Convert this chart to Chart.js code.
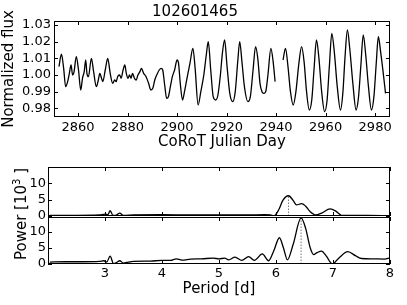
<!DOCTYPE html>
<html>
<head>
<meta charset="utf-8">
<script src="https://cdn.jsdelivr.net/npm/chart.js@4.4.1/dist/chart.umd.min.js"></script>
<style>
  html, body { margin: 0; padding: 0; background: #fff; }
  #wrap { position: relative; width: 407px; height: 305px; overflow: hidden; }
  #wrap canvas { position: absolute; left: 0; }
  #power-label {
    position: absolute; left: 21px; top: 214px;
    transform: translate(-50%, -50%) rotate(-90deg);
    font: 15px 'DejaVu Sans'; color: #000; white-space: nowrap; line-height: 18px;
  }
  #power-label sup { font-size: 10px; line-height: 0; }
</style>
</head>
<body>
<div id="wrap">
  <canvas id="chart-lc" width="407" height="160" style="top:0"></canvas>
  <canvas id="chart-pa" width="407" height="80" style="top:150px"></canvas>
  <canvas id="chart-pb" width="407" height="105" style="top:200px"></canvas>
  <div id="power-label">Power [10<sup>3</sup> ]</div>
</div>
<script>
// ─── DATA ────────────────────────────────────────────────────
const starId = '102601465';

// light curve (null = gap in the data)
const lcDays = [
  2852.3, 2853.3, 2854.2, 2855.0, 2855.8, 2856.5, 2857.2, 2857.8, 2858.4, 2859.3,
  2860.2, 2861.1, 2861.8, 2862.5, 2863.1, 2863.6, 2864.2, 2865.4, 2866.3, 2867.4,
  2868.2, 2868.8, 2869.5, 2870.0, 2871.0, 2872.0, 2873.0, 2874.0, 2874.8, 2875.4,
  2876.0, 2876.8, 2877.4, 2878.2, 2878.9, 2879.5, 2880.2, 2880.8, 2881.4, 2882.0,
  2882.8, 2883.5, 2884.2, 2885.0, 2885.6, 2886.5, 2887.5, 2888.5, 2889.4, 2890.2,
  2891.0, 2891.8, 2892.8, 2893.6, 2894.2, 2895.0, 2895.8, 2896.5, 2897.3, 2898.1,
  2899.0, 2900.0, 2900.6, 2901.3, 2902.2, 2903.0, 2904.0, 2905.2, 2906.4, 2907.3,
  2908.5, 2909.6, 2910.8, 2911.8, 2912.6, 2913.6, 2914.6, 2915.6, 2916.5, 2917.5,
  2918.3, 2919.2, 2920.2, 2921.3, 2922.5, 2923.5, 2924.5, 2925.3, 2926.2, 2927.2,
  2928.6, 2929.6, 2930.7, 2931.7, 2932.6, 2933.5, 2934.3, 2935.0, 2935.8, 2936.7,
  2937.9, 2938.8, 2939.6, 2941.0,
  2942.8, 2943.8, 2944.8, 2945.8, 2946.9, 2948.0, 2949.2, 2950.3, 2951.3, 2952.3,
  2953.4, 2954.4, 2955.3, 2956.3, 2957.3, 2958.4, 2959.6, 2960.6, 2961.5, 2962.5,
  2963.5, 2964.7, 2966.0, 2967.0, 2967.8, 2968.8, 2969.8, 2971.0, 2972.3, 2973.3,
  2974.2, 2975.2, 2976.2, 2977.3, 2978.5, 2979.5, 2980.4, 2981.3, 2982.2, 2983.2,
  2984.2
];
const lcFlux = [
  1.005, 1.0125, 1.004, 0.993, 0.996, 1.001, 1.006, 1.000, 1.002, 1.011,
  1.003, 0.991, 0.998, 1.002, 1.009, 1.001, 0.999, 1.010, 1.002, 0.993,
  0.997, 1.001, 0.998, 0.996, 1.003, 1.010, 1.001, 0.995, 0.997, 0.996,
  0.999, 1.000, 0.998, 1.003, 1.006, 1.001, 0.998, 1.000, 0.998, 1.001,
  0.998, 0.997, 1.000, 1.002, 1.004, 1.001, 0.999, 0.995, 0.991, 0.992,
  0.997, 1.000, 1.003, 1.004, 1.003, 0.994, 0.986, 0.987, 0.993, 0.999,
  1.003, 1.009, 1.007, 0.995, 0.985, 0.990, 0.998, 1.007, 1.016, 1.004,
  0.982, 0.990, 1.000, 1.012, 1.020, 1.003, 0.987, 0.985, 0.988, 1.000,
  1.013, 1.021, 1.005, 0.989, 0.984, 0.990, 1.008, 1.020, 1.008, 0.993,
  0.984, 0.987, 1.003, 1.017, 1.010, 0.995, 0.990, 0.989, 0.990, 1.000,
  1.016, 1.008, 0.996, null,
  1.009, 1.016, 1.005, 0.990, 0.982, 0.990, 1.007, 1.017, 1.008, 0.990,
  0.979, 0.985, 1.003, 1.021, 1.010, 0.990, 0.978, 0.985, 1.005, 1.025,
  1.014, 0.993, 0.979, 0.990, 1.010, 1.027, 1.015, 0.995, 0.979, 0.987,
  1.005, 1.024, 1.012, 0.993, 0.979, 0.987, 1.006, 1.023, 1.014, 1.002,
  0.989
];
const fluxTicks = [0.98, 0.99, 1.00, 1.01, 1.02, 1.03];
const dayTicks = [2860, 2880, 2900, 2920, 2940, 2960, 2980];

// periodogram, first half of the run
const periodA = [
  2.03, 2.5, 2.9, 3.0, 3.05, 3.09, 3.14, 3.2, 3.26, 3.32,
  3.5, 4.0, 4.5, 5.0, 5.5, 5.8, 5.9, 5.97, 6.05, 6.12,
  6.22, 6.3, 6.36, 6.45, 6.52, 6.6, 6.7, 6.8, 6.95, 7.05,
  7.15, 7.3, 7.6, 8.0
];
const powerA = [
  0.2, 0.2, 0.3, 0.6, 0.4, 1.6, 0.2, 0.3, 0.9, 0.2,
  0.3, 0.4, 0.3, 0.3, 0.3, 0.4, 0.3, 0.1, 2.0, 4.8,
  6.2, 4.8, 3.4, 3.8, 3.0, 1.3, 0.3, 0.9, 2.2, 1.5,
  0.2, 0.2, 0.2, 0.1
];
// periodogram, whole run
const periodB = [
  2.03, 2.3, 2.6, 2.9, 2.98, 3.03, 3.09, 3.15, 3.2, 3.26,
  3.32, 3.5, 3.8, 4.0, 4.15, 4.25, 4.35, 4.5, 4.7, 4.9,
  5.0, 5.1, 5.17, 5.28, 5.4, 5.52, 5.62, 5.76, 5.87, 5.96,
  6.06, 6.13, 6.2, 6.3, 6.44, 6.52, 6.6, 6.66, 6.72, 6.8,
  6.88, 6.99, 7.1, 7.26, 7.4, 7.5, 7.7, 7.9, 8.0
];
const powerB = [
  0.6, 0.7, 0.7, 0.8, 1.0, 0.6, 2.4, 0.1, 0.4, 1.0,
  0.3, 0.8, 0.9, 1.1, 1.1, 1.6, 1.2, 1.5, 1.6, 1.8,
  1.6, 1.8, 1.3, 2.1, 1.1, 2.3, 1.1, 3.1, 1.0, 4.0,
  8.1, 5.0, 1.3, 6.0, 14.2, 11.0, 5.0, 2.9, 3.5, 4.0,
  2.5, 0.0, 1.8, 3.8, 2.5, 1.7, 1.6, 1.5, 1.9
];
const bestA = [6.22, 6.2];   // period, power
const bestB = [6.44, 14.2];
const periodTicks = [3, 4, 5, 6, 7, 8];
const powerTicks = [0, 5, 10];

// ─── HELPERS ─────────────────────────────────────────────────
Chart.defaults.font.family = "'DejaVu Sans', sans-serif";
Chart.defaults.color = '#000';

const toPoints = (xs, ys) => xs.map((x, i) => ({ x, y: ys[i] }));

// box around the plot with matplotlib-style inward ticks
const framePlugin = {
  id: 'frame',
  afterDatasetsDraw(chart, args, opts) {
    const { ctx, chartArea: a } = chart;
    const sx = chart.scales.x, sy = chart.scales.y;
    ctx.save();
    ctx.strokeStyle = '#000';
    ctx.lineWidth = 1;
    ctx.strokeRect(a.left + 0.5, a.top + 0.5, a.right - a.left - 1, a.bottom - a.top - 1);
    ctx.beginPath();
    (opts.xTicks || []).forEach(v => {
      const px = Math.round(sx.getPixelForValue(v)) + 0.5;
      ctx.moveTo(px, a.bottom); ctx.lineTo(px, a.bottom - 4);
      ctx.moveTo(px, a.top); ctx.lineTo(px, a.top + 4);
    });
    (opts.yTicks || []).forEach(v => {
      const py = Math.round(sy.getPixelForValue(v)) + 0.5;
      ctx.moveTo(a.left, py); ctx.lineTo(a.left + 4, py);
      ctx.moveTo(a.right, py); ctx.lineTo(a.right - 4, py);
    });
    ctx.stroke();
    ctx.restore();
  }
};

function axis(min, max, ticks, extra = {}) {
  return {
    type: 'linear', min, max,
    afterBuildTicks: s => { s.ticks = ticks.map(v => ({ value: v })); },
    grid: { display: false, drawTicks: false },
    border: { display: false },
    ...extra,
    ticks: { color: '#000', font: { size: 13 }, maxRotation: 0, autoSkip: false, ...(extra.ticks || {}) }
  };
}

function lineSet(data, extra = {}) {
  return {
    data, borderColor: '#000', borderWidth: 1.3, pointRadius: 0,
    cubicInterpolationMode: 'monotone', spanGaps: false, ...extra
  };
}

function markerSet(best) {
  return {
    data: [{ x: best[0], y: 0 }, { x: best[0], y: best[1] }],
    borderColor: '#777', borderWidth: 1, borderDash: [1.5, 1.5], pointRadius: 0
  };
}

function baseOptions(padding, scales, frame) {
  return {
    responsive: false,
    animation: false,
    devicePixelRatio: 1,
    layout: { padding },
    plugins: { legend: { display: false }, tooltip: { enabled: false }, title: { display: false }, frame },
    scales
  };
}

// ─── LIGHT CURVE ─────────────────────────────────────────────
new Chart(document.getElementById('chart-lc'), {
  type: 'line',
  data: { datasets: [lineSet(toPoints(lcDays, lcFlux))] },
  options: (() => {
    const o = baseOptions({ left: 0, right: 17, top: 0, bottom: 0 }, {
      x: axis(2850.3, 2986, dayTicks, {
        afterFit: s => { s.height = 43; },
        ticks: { padding: 3, callback: v => String(v) },
        title: { display: true, text: 'CoRoT Julian Day', color: '#000', font: { size: 15 }, padding: { top: 0, bottom: 9 } }
      }),
      y: axis(0.9748, 1.0324, fluxTicks, {
        afterFit: s => { s.width = 54; },
        ticks: { padding: 3, callback: v => v.toFixed(2) },
        title: { display: true, text: 'Normalized flux', color: '#000', font: { size: 15 }, padding: { top: 0, bottom: 0 } }
      })
    }, { xTicks: dayTicks, yTicks: fluxTicks });
    o.plugins.title = {
      display: true, text: starId, color: '#000',
      font: { size: 15, weight: 'normal' }, padding: { top: 3, bottom: 0 }
    };
    return o;
  })(),
  plugins: [framePlugin]
});

// ─── PERIODOGRAM (TOP) ───────────────────────────────────────
new Chart(document.getElementById('chart-pa'), {
  type: 'line',
  data: { datasets: [lineSet(toPoints(periodA, powerA)), markerSet(bestA)] },
  options: baseOptions({ left: 0, right: 17, top: 17, bottom: 14 }, {
    x: axis(2, 8, periodTicks, { display: false }),
    y: axis(0, 15, powerTicks, {
      afterFit: s => { s.width = 48; },
      ticks: { padding: 2, callback: v => String(v) }
    })
  }, { xTicks: periodTicks, yTicks: powerTicks }),
  plugins: [framePlugin]
});

// ─── PERIODOGRAM (BOTTOM) ────────────────────────────────────
new Chart(document.getElementById('chart-pb'), {
  type: 'line',
  data: { datasets: [lineSet(toPoints(periodB, powerB)), markerSet(bestB)] },
  options: baseOptions({ left: 0, right: 17, top: 17, bottom: 0 }, {
    x: axis(2, 8, periodTicks, {
      afterFit: s => { s.height = 41; },
      ticks: { padding: 2, callback: v => String(v) },
      title: { display: true, text: 'Period [d]', color: '#000', font: { size: 15 }, padding: { top: 0, bottom: 7 } }
    }),
    y: axis(0, 14.5, powerTicks, {
      afterFit: s => { s.width = 48; },
      ticks: { padding: 2, callback: v => String(v) }
    })
  }, { xTicks: periodTicks, yTicks: powerTicks }),
  plugins: [framePlugin]
});
</script>
</body>
</html>
